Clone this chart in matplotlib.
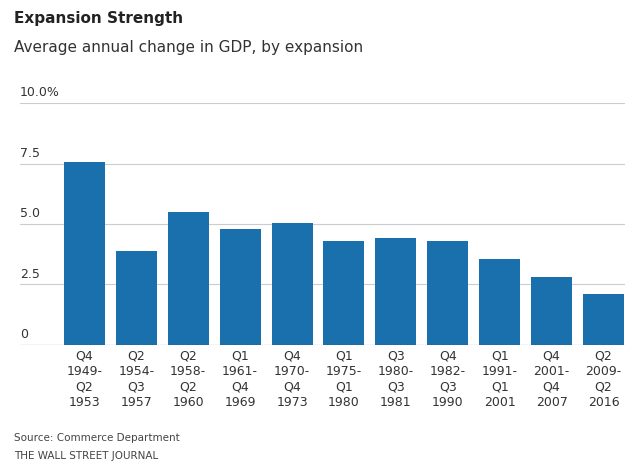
import matplotlib
matplotlib.use("Agg")
import matplotlib.pyplot as plt

labels = ["Q4\n1949-\nQ2\n1953", "Q2\n1954-\nQ3\n1957", "Q2\n1958-\nQ2\n1960", "Q1\n1961-\nQ4\n1969",
          "Q4\n1970-\nQ4\n1973", "Q1\n1975-\nQ1\n1980", "Q3\n1980-\nQ3\n1981", "Q4\n1982-\nQ3\n1990",
          "Q1\n1991-\nQ1\n2001", "Q4\n2001-\nQ4\n2007", "Q2\n2009-\nQ2\n2016"]
values = [7.56, 3.9, 5.5, 4.8, 5.05, 4.3, 4.4, 4.3, 3.55, 2.8, 2.1]
yticks = [0, 2.5, 5.0, 7.5, 10.0]
ytick_labels = ["0", "2.5", "5.0", "7.5", "10.0%"]

fig = plt.figure(figsize=(6.4, 4.75), dpi=100)
ax = fig.add_axes([0.031, 0.274, 0.946, 0.509])
x = list(range(len(values)))
ax.bar(x, values, width=0.79, color="#1a6fad", zorder=2)
ax.set_xlim(-1.244, 10.42)
ax.set_ylim(0, 10)
for t, l in zip(yticks, ytick_labels):
    ax.axhline(t, color="#cccccc" if t else "#444444", lw=0.8, zorder=1 if t else 3)
    ax.text(-1.244, t + 0.15, l, fontsize=9, color="#333333", va="bottom", ha="left")
for s in ax.spines.values():
    s.set_visible(False)
ax.set_yticks([])
ax.set_xticks(x)
ax.set_xticklabels(labels, fontsize=9, color="#333333", linespacing=1.25)
ax.tick_params(axis="x", length=0, pad=3)

fig.text(0.022, 0.962, "Expansion Strength", fontsize=11, fontweight="bold", va="center", color="#222222")
fig.text(0.022, 0.901, "Average annual change in GDP, by expansion", fontsize=11, va="center", color="#333333")
fig.text(0.022, 0.078, "Source: Commerce Department", fontsize=7.5, va="center", color="#444444")
fig.text(0.022, 0.040, "THE WALL STREET JOURNAL", fontsize=7.5, va="center", color="#444444")
fig.savefig("out.png", dpi=100)
